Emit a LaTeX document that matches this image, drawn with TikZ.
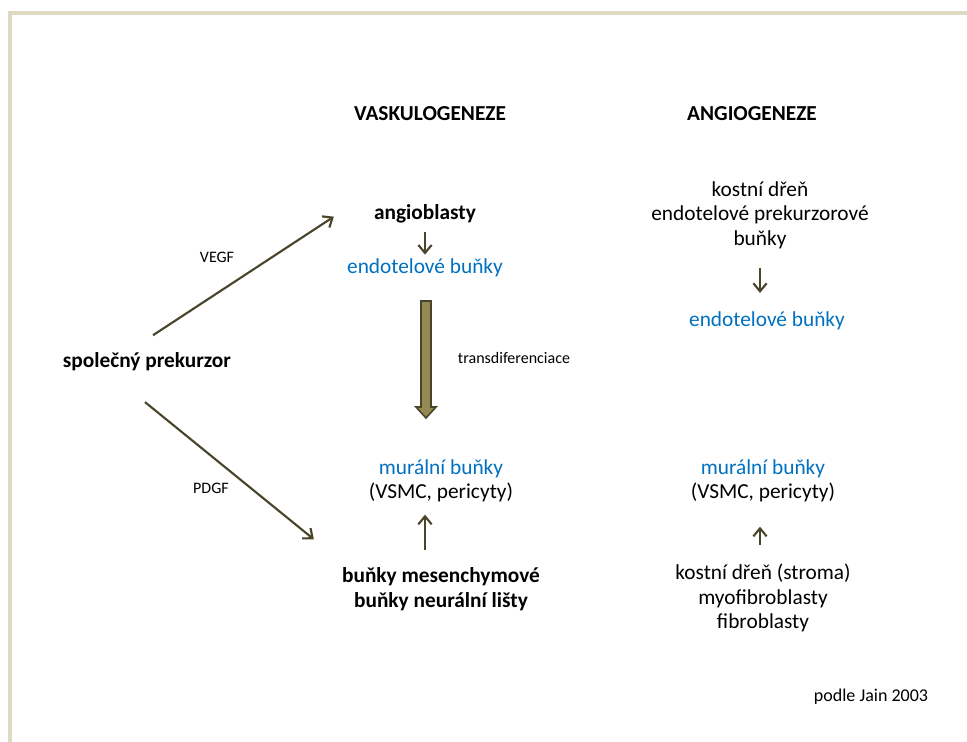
\documentclass[tikz,border=0pt]{standalone}
\usepackage{fontspec}
\setmainfont{Carlito}
\usetikzlibrary{arrows.meta,positioning}

\definecolor{framecol}{HTML}{DDD9C3}
\definecolor{arrcol}{HTML}{4A452A}
\definecolor{blockcol}{HTML}{948A54}
\definecolor{cellblue}{HTML}{0070C0}

\tikzset{
  cell/.style={align=center, inner sep=0pt, font=\fontsize{16}{18.4}\selectfont},
  boldcell/.style={cell, font=\fontsize{16}{18.4}\selectfont\bfseries},
  bluecell/.style={cell, text=cellblue},
  factor/.style={inner sep=0pt, font=\fontsize{12}{14}\selectfont},
  arr/.style={draw=arrcol, line width=1.6pt, -{Straight Barb[length=6pt,width=10pt]}},
}

\begin{document}
\begin{tikzpicture}[x=0.75pt,y=-0.75pt]
\useasboundingbox (0,0) rectangle (967,742);
% slide frame
\draw[framecol, line width=3pt] (10,742) -- (10,13) -- (967,13);

% headings
\node[boldcell] (vask) at (430,114) {VASKULOGENEZE};
\node[boldcell] (angi) at (752,114) {ANGIOGENEZE};

% vaskulogeneze
\node[boldcell] (spol) at (147,362) {společný prekurzor};
\node[boldcell] (angio) at (425,214) {angioblasty};
\node[bluecell] (endoL) at (425,268) {endotelové buňky};
\node[cell] (muralL) at (441,481) {{\color{cellblue}murální buňky}\\(VSMC, pericyty)};
\node[boldcell] (mes) at (441,589) {buňky mesenchymové\\buňky neurální lišty};

% angiogeneze
\node[cell] (kost) at (760,215) {kostní dřeň\\endotelové prekurzorové\\buňky};
\node[bluecell] (endoR) at (767,321) {endotelové buňky};
\node[cell] (muralR) at (763,481) {{\color{cellblue}murální buňky}\\(VSMC, pericyty)};
\node[cell] (strom) at (763,598) {kostní dřeň (stroma)\\myofibroblasty\\fibroblasty};

% factors
\node[factor] (vegf) at (217,257) {VEGF};
\node[factor] (pdgf) at (211,488) {PDGF};
\node[factor] (trans) at (514,358) {transdiferenciace};
\node[factor, font=\fontsize{13.5}{16}\selectfont] (src) at (871,697) {podle Jain 2003};

% arrows
\draw[arr] ([xshift=4.5pt,yshift=13pt]spol.north) -- ([xshift=-30pt,yshift=-2pt]angio.west);
\draw[arr] ([xshift=-1.5pt,yshift=-23pt]spol.south) -- ([xshift=-21pt,yshift=21pt]mes.north west);
\draw[arr, shorten <=6pt, shorten >=3pt] (angio) -- (endoL.north -| angio);
\draw[arr, shorten <=13pt, shorten >=9pt] (mes.north -| angio) -- (muralL.south -| angio);
\draw[arr, shorten <=14pt, shorten >=14pt] (kost.south) -- (endoR.north -| kost);
\draw[arr, shorten <=14pt, shorten >=18pt] (strom.north -| kost) -- (muralR.south -| kost);

% transdiferenciace block arrow
\draw[draw=arrcol, fill=blockcol, line width=1.2pt, line join=miter]
  (421,301) -- (431,301) -- (431,407) -- (436,407) -- (426,418)
  -- (416,407) -- (421,407) -- cycle;
\end{tikzpicture}
\end{document}
